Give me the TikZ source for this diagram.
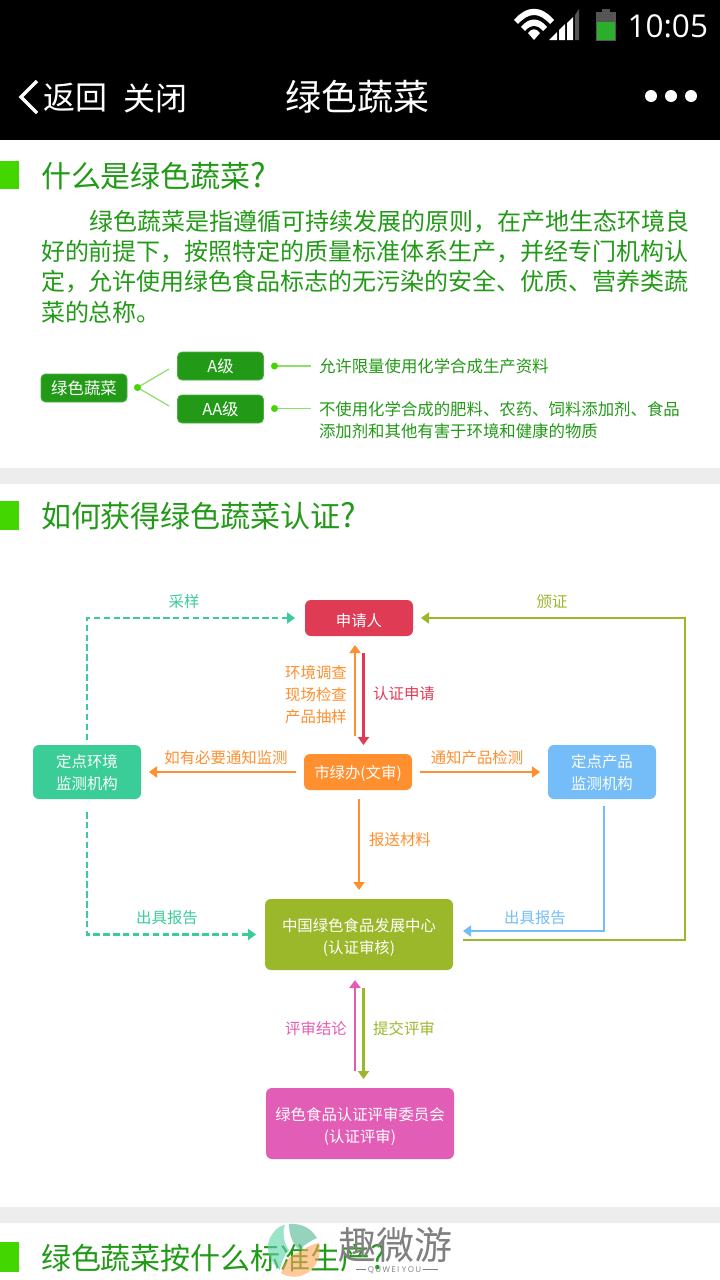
\documentclass[tikz,border=0pt]{standalone}
\usepackage{fontspec}
\usetikzlibrary{arrows.meta}
\setmainfont{Noto Sans CJK SC}
\newfontfamily\latinfont{Open Sans}
\newcommand{\bigq}{{\fontsize{33pt}{33pt}\selectfont ?}}
\newcommand{\tall}[1]{\rule{0pt}{#1pt}}
\definecolor{cgreen}{HTML}{229A17}
\definecolor{cbar}{HTML}{44D600}
\definecolor{cband}{HTML}{EDEDED}
\definecolor{clink}{HTML}{8CE06A}
\definecolor{cred}{HTML}{DF3B55}
\definecolor{corange}{HTML}{FF8F2F}
\definecolor{cteal}{HTML}{3ACD98}
\definecolor{cblue}{HTML}{74BDF9}
\definecolor{colive}{HTML}{9BB82A}
\definecolor{cpink}{HTML}{E25DB5}
\definecolor{cicon}{HTML}{555555}
\definecolor{cbatt}{HTML}{2BAE2B}
\tikzset{
 txt/.style={inner sep=0pt,outer sep=0pt},
 fs/.style={font=\fontsize{#1pt}{#1pt}\selectfont},
 title/.style={txt,anchor=west,text=cgreen,fs=30},
 bodyline/.style={txt,anchor=west,text=cgreen,fs=24},
 smallline/.style={txt,anchor=west,text=cgreen,fs=16.4},
 gbox/.style={draw=cgreen!80!white,line width=0.8pt,fill=cgreen,rounded corners=4.5pt,text=white,inner sep=0pt,fs=16.4,anchor=center},
 fbox/.style={rounded corners=6pt,text=white,inner sep=0pt,fs=15.4,align=center,anchor=center,minimum width=108pt,minimum height=36pt,line width=0pt},
 lab/.style={txt,fs=15.4,align=center},
 arr/.style={line width=2.9pt,-{Triangle[length=8pt,width=11pt]}},
 dsh/.style={line width=2.9pt,dash pattern=on 6.5pt off 3.4pt,-{Triangle[length=8pt,width=11pt]}},
}
\begin{document}
\begin{tikzpicture}[x=1pt,y=-1pt]
\useasboundingbox (0,0) rectangle (720,1280);
\fill[white] (0,0) rectangle (720,1280);
\fill[black] (0,0) rectangle (720,140);
\fill[cband] (0,468) rectangle (720,484);
\fill[cband] (0,1207) rectangle (720,1223);
\fill[cbar] (0,161) rectangle (19,189);
\fill[cbar] (0,501) rectangle (19,530);
\fill[cbar] (0,1242) rectangle (19,1272);
% status bar
\fill[white] (514,20) .. controls (527,5) and (541,5) .. (554,20) -- (550,24) .. controls (539,12) and (529,12) .. (518,24) -- cycle;
\fill[white] (521,27) .. controls (529,17) and (539,17) .. (547,27) -- (543,31) .. controls (537,24) and (531,24) .. (525,31) -- cycle;
\fill[white] (528,33) .. controls (532,28) and (536,28) .. (540,33) -- (534,40) -- cycle;
\fill[white] (549,40) -- (557,32) -- (557,40) -- cycle;
\fill[white] (559,40) -- (559,30) -- (565,24) -- (565,40) -- cycle;
\fill[white] (567,40) -- (567,23) -- (573,17) -- (573,40) -- cycle;
\fill[cicon] (575,40) -- (575,15) -- (579,9) -- (579,40) -- cycle;
\fill[cicon] (596,12) rectangle (616,40.5);
\fill[cicon] (602,9) rectangle (610,12);
\fill[cbatt] (597,22) rectangle (615,39.5);
\node[txt,anchor=east,text=white,font=\latinfont\fontsize{31.5pt}{32pt}\selectfont] (clock) at (708,26) {10:05};
% nav bar
\draw[white,line width=3.4pt] (37,81) -- (21,97) -- (37,113);
\node[txt,anchor=west,text=white,fs=32] (back) at (43,98) {返回};
\node[txt,anchor=west,text=white,fs=32] (close) at (123.5,98) {关闭};
\node[txt,anchor=center,text=white,fs=36] (navtitle) at (357,96.5) {绿色蔬菜};
\fill[white] (651,96) circle (6pt) (671,96) circle (6pt) (691,96) circle (6pt);
% section 1
\node[title] (t1) at (41,176) {什么是绿色蔬菜\bigq};
\node[bodyline] (b1) at (89.5,222) {绿色蔬菜是指遵循可持续发展的原则，在产地生态环境良};
\node[bodyline] (b2) at (41,252) {好的前提下，按照特定的质量标准体系生产，并经专门机构认};
\node[bodyline] (b3) at (41,282) {定，允许使用绿色食品标志的无污染的安全、优质、营养类蔬};
\node[bodyline] (b4) at (41,312) {菜的总称。};
\node[gbox,minimum width=86pt,minimum height=28pt] (root) at (84,388) {绿色蔬菜};
\node[gbox,minimum width=86pt,minimum height=28pt] (ga) at (220.5,366) {A级};
\node[gbox,minimum width=86pt,minimum height=28pt] (gaa) at (220.5,409) {AA级};
\coordinate (rd) at (137.5,387.5);
\coordinate (ad) at (274.5,366);
\coordinate (aad) at (274.5,408.5);
\coordinate (ae) at (311,366);
\coordinate (aae) at (311,408.5);
\coordinate (ra) at (169,369);
\coordinate (raa) at (169,406);
\draw[clink,line width=1.2pt] (ra) -- (rd) -- (raa);
\draw[clink,line width=1.2pt] (ad) -- (ae) (aad) -- (aae);
\fill[cbar] (rd) circle (3.5pt) (ad) circle (3.5pt) (aad) circle (3.5pt);
\node[smallline] (s1) at (319,366) {允许限量使用化学合成生产资料};
\node[smallline] (s2) at (319,409) {不使用化学合成的肥料、农药、饲料添加剂、食品};
\node[smallline] (s3) at (319,431) {添加剂和其他有害于环境和健康的物质};
% section 2
\node[title] (t2) at (41,516.5) {如何获得绿色蔬菜认证\bigq};
\node[fbox,fill=cred] (app) at (359,618) {\tall{18}申请人};
\node[fbox,fill=corange] (city) at (358,772) {\tall{16}市绿办(文审)};
\node[fbox,fill=cteal,minimum height=54pt] (env) at (87,772) {\tall{14.5}定点环境\\[6.6pt]监测机构};
\node[fbox,fill=cblue,minimum height=54pt] (prod) at (602,772) {\tall{14.5}定点产品\\[6.6pt]监测机构};
\node[fbox,fill=colive,minimum width=188pt,minimum height=71pt] (center) at (359,934.5) {\tall{18}中国绿色食品发展中心\\[6.6pt](认证审核)};
\node[fbox,fill=cpink,minimum width=188pt,minimum height=71pt] (review) at (360,1123.5) {\tall{18}绿色食品认证评审委员会\\[6.6pt](认证评审)};
% connectors
\coordinate (envup) at (87,740);
\coordinate (envdown) at (87,812);
\coordinate (prodout) at (604,806);
\coordinate (cline) at (463,940);
\coordinate (corner) at (685,940);
\coordinate (appin) at (421,618);
\coordinate (envtop) at (87,618);
\draw[dsh,cteal] (envup) -- (envtop) -- ([xshift=-10pt]app.west);
\draw[dsh,cteal] (envdown) |- ([xshift=-9pt]center.west);
\draw[arr,colive] (cline) -- (corner) |- (appin);
\draw[arr,cblue] (prodout) |- ([xshift=10pt,yshift=3.5pt]center.east);
\coordinate (u1) at (355,736);
\coordinate (u2) at (355,645);
\coordinate (d1) at (363.5,653);
\coordinate (d2) at (363.5,745);
\draw[arr,corange] (u1) -- (u2);
\draw[arr,cred] (d1) -- (d2);
\draw[arr,corange] ([xshift=-8pt]city.west) -- ([xshift=8pt]env.east);
\draw[arr,corange] ([xshift=8pt]city.east) -- ([xshift=-8pt]prod.west);
\coordinate (ctop) at (359,890);
\coordinate (cbot) at (359,799);
\draw[arr,corange] (cbot) -- (ctop);
\coordinate (p1) at (355,1071);
\coordinate (p2) at (355,980);
\coordinate (q1) at (363.5,988);
\coordinate (q2) at (363.5,1079);
\draw[arr,cpink] (p1) -- (p2);
\draw[arr,colive] (q1) -- (q2);
% labels
\node[lab,text=cteal] (l1) at (184,602) {采样};
\node[lab,text=colive] (l2) at (552,602) {颁证};
\node[lab,text=corange] (l3) at (316,694.5) {环境调查\\[6.6pt]现场检查\\[6.6pt]产品抽样};
\node[lab,text=cred] (l4) at (404,694) {认证申请};
\node[lab,text=corange] (l5) at (226,757.5) {如有必要通知监测};
\node[lab,text=corange] (l6) at (477,757.5) {通知产品检测};
\node[lab,text=corange] (l7) at (400,840) {报送材料};
\node[lab,text=cteal] (l8) at (167,917.5) {出具报告};
\node[lab,text=cblue] (l9) at (535,917.5) {出具报告};
\node[lab,text=cpink] (l10) at (316,1029) {评审结论};
\node[lab,text=colive] (l11) at (404,1029) {提交评审};
% section 3
\node[title] (t3) at (41,1258) {绿色蔬菜按什么标准生产\bigq};
% watermark
\begin{scope}[opacity=.6]
\fill[cteal!85!white] (269,1240) .. controls (273,1231) and (279,1226) .. (285,1224.5) .. controls (282,1232) and (284,1244) .. (289,1250) .. controls (284,1256) and (281,1262) .. (280,1270) .. controls (270,1262) and (266,1251) .. (269,1240) -- cycle;
\fill[cteal!70!gray] (289,1224) .. controls (301,1223) and (311,1228) .. (317,1238) .. controls (310,1241) and (304,1245) .. (299,1250) .. controls (292,1243) and (289,1234) .. (289,1224) -- cycle;
\fill[corange!80] (319,1243) .. controls (322,1256) and (316,1270) .. (303,1275) .. controls (295,1278) and (287,1277) .. (281,1273) .. controls (284,1262) and (290,1255) .. (299,1252) .. controls (306,1248) and (312,1244) .. (319,1243) -- cycle;
\end{scope}
\node[txt,text=gray,fs=38] (wm) at (395,1245) {趣微游};
\node[txt,text=gray,font=\latinfont\fontsize{8pt}{8pt}\selectfont] (wm2) at (397,1270) {\rule[2.7pt]{10pt}{0.5pt}\,Q\,U\,W\,E\,I\,\,Y\,O\,U\,\rule[2.7pt]{15pt}{0.5pt}};
\end{tikzpicture}
\end{document}
